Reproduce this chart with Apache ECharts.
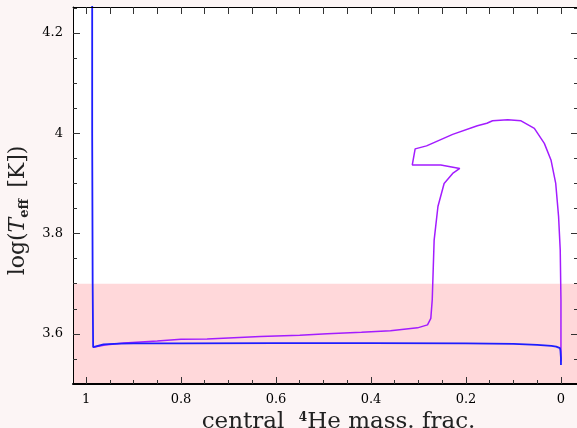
<!DOCTYPE html>
<html><head><meta charset="utf-8">
<script src="https://cdn.jsdelivr.net/npm/echarts@6/dist/echarts.min.js"></script>
<style>html,body{margin:0;padding:0;background:#fcf5f5;}#c{width:577px;height:428px;}</style>
</head><body><div id="c"></div>
<script>
// ---- data ----
const blueX = [0.987, 0.987, 0.986, 0.985, 0.963, 0.93, 0.9, 0.8, 0.6, 0.4, 0.2, 0.1, 0.05, 0.02, 0.01, 0.002, 0.001, 0.0, 0.0];
const blueY = [4.26, 4.0, 3.7, 3.5735, 3.579, 3.5805, 3.581, 3.5812, 3.5814, 3.5814, 3.5812, 3.580, 3.578, 3.576, 3.5747, 3.5715, 3.566, 3.552, 3.538];
const purpleX = [0.985, 0.96, 0.92, 0.85, 0.8, 0.745, 0.7, 0.633, 0.55, 0.492, 0.42, 0.359, 0.302, 0.281, 0.274, 0.271, 0.267, 0.259, 0.246, 0.228, 0.213, 0.253, 0.313, 0.307, 0.283, 0.228, 0.176, 0.156, 0.144, 0.112, 0.084, 0.056, 0.035, 0.021, 0.011, 0.005, 0.0015, 0.0, 0.0];
const purpleY = [3.5735, 3.578, 3.582, 3.586, 3.5894, 3.5897, 3.592, 3.5947, 3.597, 3.600, 3.603, 3.606, 3.612, 3.618, 3.631, 3.668, 3.787, 3.854, 3.900, 3.920, 3.930, 3.937, 3.937, 3.969, 3.975, 3.998, 4.015, 4.020, 4.025, 4.027, 4.025, 4.010, 3.980, 3.947, 3.900, 3.834, 3.767, 3.668, 3.545];
const xMajorTicks = [1, 0.8, 0.6, 0.4, 0.2, 0];
const xMinorTicks = [0.95, 0.9, 0.85, 0.75, 0.7, 0.65, 0.55, 0.5, 0.45, 0.35, 0.3, 0.25, 0.15, 0.1, 0.05];
const yMajorTicks = [3.6, 3.8, 4.0, 4.2];
const yMinorTicks = [3.55, 3.65, 3.7, 3.75, 3.85, 3.9, 3.95, 4.05, 4.1, 4.15, 4.25];
const xTopTicks = [1, 0.95, 0.9, 0.85, 0.8, 0.75, 0.7, 0.65, 0.6, 0.55, 0.5, 0.45, 0.4, 0.35, 0.3, 0.25, 0.2, 0.15, 0.1, 0.05, 0];
const bandRange = [3.5, 3.7];
const X_MIN = -0.0359, X_MAX = 1.0274, Y_MIN = 3.5, Y_MAX = 4.252;

const zip = (a, b) => a.map((v, i) => [v, b[i]]);
const FONT = 'DejaVu Serif';
const gridPos = {left: 73, right: -1, top: 7, bottom: 44, outerBoundsMode: 'none', containLabel: false};
function xAx(grid, pos, ticks, len, opts) {
  const o = Object.assign({
    type: 'value', gridIndex: grid, position: pos, min: X_MIN, max: X_MAX, inverse: true, z: 10,
    axisLine: {show: false, onZero: false}, splitLine: {show: false},
    axisTick: {show: true, inside: true, length: len, customValues: ticks, lineStyle: {color: '#333', width: 1}},
    axisLabel: {show: false}
  }, opts || {});
  o.axisLine.onZero = false;
  return o;
}
function yAx(grid, pos, ticks, len, opts) {
  const o = Object.assign({
    type: 'value', gridIndex: grid, position: pos, min: Y_MIN, max: Y_MAX, z: 10,
    axisLine: {show: false, onZero: false}, splitLine: {show: false},
    axisTick: {show: true, inside: true, length: len, customValues: ticks, lineStyle: {color: '#333', width: 1}},
    axisLabel: {show: false}
  }, opts || {});
  o.axisLine.onZero = false;
  return o;
}
const chart = echarts.init(document.getElementById('c'), null, {renderer: 'canvas'});
chart.setOption({
  animation: false,
  backgroundColor: '#fcf5f5',
  grid: [Object.assign({backgroundColor: '#ffffff', show: true, borderWidth: 0}, gridPos), Object.assign({}, gridPos), Object.assign({}, gridPos)],
  xAxis: [
    xAx(0, 'bottom', xMajorTicks, 7, {
      axisLine: {show: true, lineStyle: {color: '#000', width: 2}},
      axisLabel: {show: true, customValues: xMajorTicks, margin: 9, color: '#000', fontFamily: FONT, fontSize: 13},
      name: '{n|central  }{p|4}{n|He mass. frac.}', nameLocation: 'middle', nameGap: 21,
      nameTextStyle: {padding: [0, 0, 0, 26], rich: {
        n: {fontFamily: FONT, fontSize: 23, color: '#222', verticalAlign: 'bottom', lineHeight: 22},
        p: {fontFamily: FONT, fontSize: 12, color: '#222', verticalAlign: 'top', lineHeight: 22, fontWeight: 'bold'}
      }}
    }),
    xAx(0, 'top', xTopTicks, 7, {axisLine: {show: true, lineStyle: {color: '#000', width: 1}}}),
    xAx(1, 'bottom', xMinorTicks, 4),
    xAx(2, 'bottom', xMajorTicks, 7),
  ],
  yAxis: [
    yAx(0, 'left', yMajorTicks, 7, {
      axisLine: {show: true, lineStyle: {color: '#000', width: 1}},
      axisLabel: {show: true, customValues: yMajorTicks, margin: 10, color: '#000', fontFamily: FONT, fontSize: 13},
      name: '{n|log(}{i|T}{s|eff}{n| [K])}', nameLocation: 'middle', nameGap: 38,
      nameTextStyle: {padding: [0, 30, 0, 0], rich: {
        n: {fontFamily: FONT, fontSize: 22, color: '#222', lineHeight: 26},
        i: {fontFamily: FONT, fontSize: 22, fontStyle: 'italic', color: '#222', lineHeight: 26},
        s: {fontFamily: FONT, fontSize: 13, color: '#222', fontWeight: 'bold', verticalAlign: 'bottom', lineHeight: 14, padding: [10, 4, 0, 0]}
      }}
    }),
    yAx(0, 'right', yMajorTicks, 7),
    yAx(1, 'left', yMinorTicks, 4),
    yAx(1, 'right', yMinorTicks, 4),
    yAx(2, 'left', yMajorTicks, 7),
  ],
  series: [
    {
      type: 'line', xAxisIndex: 0, yAxisIndex: 0, data: [], z: 1, silent: true,
      markArea: {silent: true, itemStyle: {color: '#ffd8da'}, data: [[{yAxis: bandRange[0]}, {yAxis: bandRange[1]}]]}
    },
    {
      type: 'line', xAxisIndex: 0, yAxisIndex: 0, data: zip(purpleX, purpleY), showSymbol: false,
      lineStyle: {color: '#a31cff', width: 1.5}, z: 3
    },
    {
      type: 'line', xAxisIndex: 0, yAxisIndex: 0, data: zip(blueX, blueY), showSymbol: false,
      lineStyle: {color: '#1e1eff', width: 1.8}, z: 4
    }
  ]
});
</script></body></html>
